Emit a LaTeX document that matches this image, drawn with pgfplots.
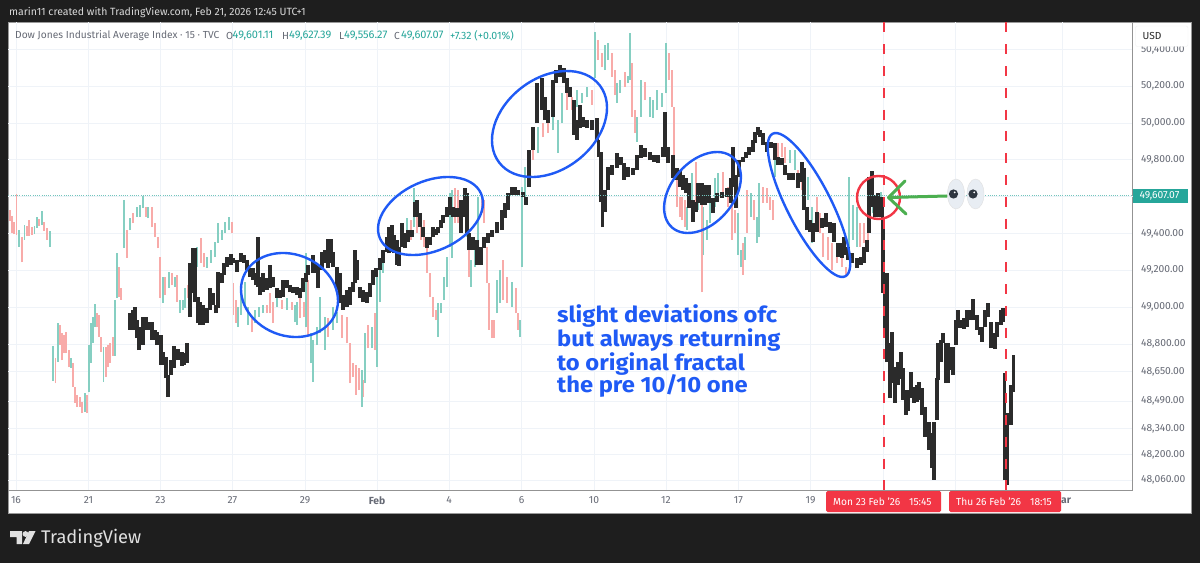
\documentclass[border=0pt]{standalone}
\usepackage{pgfplots}
\usepackage{pgfplotstable}
\usepackage{fontspec}
\pgfplotsset{compat=1.18}
\setmainfont{Fira Sans}
\newfontfamily\annotfont[FakeStretch=1.08]{Fira Sans}
\definecolor{bg}{HTML}{1E1E1E}
\definecolor{gridc}{HTML}{EFF3F8}
\definecolor{pgreen}{HTML}{86CFC2}
\definecolor{pred}{HTML}{F8ABA9}
\definecolor{blk}{HTML}{2B2B2B}
\definecolor{tagred}{HTML}{F23645}
\definecolor{teal}{HTML}{26A69A}
\definecolor{ell}{HTML}{1F5AF5}
\definecolor{lbl}{HTML}{666A75}
\definecolor{arrowg}{HTML}{4CAF50}
\definecolor{pupil}{HTML}{2E3640}
\definecolor{eyew}{HTML}{E8EDF3}

\pgfplotstableread{
x lo hi
10 49468 49528
12 49403 49495
14 49397 49463
16.5 49392 49615
22 49245 49381
27 49387 49441
29 49387 49473
32 49392 49435
39 49441 49479
44 49414 49463
47 49365 49430
55.5 48588 48724
60 48795 48903
62 48713 48860
64 48751 48849
66 48751 48865
69 48675 48767
73 48567 48697
75 48480 48567
77 48458 48523
80 48458 48512
82 48425 48485
87 48425 48523
97 48892 48968
99 48838 48958
101 48757 48838
106 48621 48784
108 48675 48795
110 48697 48805
113 48735 48838
119 49055 49218
121 49039 49104
127 49267 49419
133 49457 49511
146 49490 49544
152 49435 49544
155 49381 49457
158 49321 49381
160 49050 49272
165 49066 49164
172 49120 49186
177 49028 49175
188 49050 49120
201 49240 49376
204 49218 49294
232 49403 49463
233.5 48958 49131
236 48914 49039
252 48865 48947
267 48968 49012
270 48968 49077
273 48914 49028
282 48990 49039
292 48985 49028
300 48941 49050
304 48947 49028
308 48849 49148
328 48838 48941
342 48833 48958
347 48805 48947
350 48588 48805
353 48621 48697
356 48523 48686
359 48550 48670
363.5 48512 48605
368 48778 48903
375 48767 48968
411 49365 49473
417 49403 49528
421 49365 49490
424 49327 49473
427 49186 49327
430 49055 49186
433 48947 49055
436 48930 48985
455 49457 49647
458 49457 49636
462 49403 49582
469 49164 49327
482 49511 49598
484 49457 49582
487 49131 49327
489 48876 49131
492 48833 48930
494 48833 48930
503 49039 49256
507 49023 49164
516 48968 49104
518 48876 48968
528 49653 49837
533 49799 49908
543 49924 50000
548 49946 50000
567 50071 50163
572 50071 50141
592 50098 50179
598 50342 50451
602 50304 50380
612 50250 50380
615 50152 50288
625 50196 50277
632 50033 50326
635 49946 50071
645 50125 50223
669 50234 50380
672 50087 50288
674 49707 50087
677 49544 49729
680 49490 49598
682 49473 49598
685 49435 49582
696 49566 49788
702 49082 49582
723 49620 49734
728 49544 49653
732 49365 49566
735 49403 49528
743 49175 49349
747 49403 49636
754 49473 49582
763 49566 49653
767 49566 49647
770 49528 49598
773 49473 49582
778 49815 49892
782 49815 49892
785 49783 49870
798 49653 49745
802 49636 49707
817 49457 49598
820 49403 49511
823 49272 49403
828 49256 49381
832 49202 49349
837 49240 49327
842 49218 49310
846 49164 49218
860 49327 49457
864 49349 49457
868 49365 49490
877 49511 49620
}\reddata

\pgfplotstableread{
x lo hi
19 49327 49419
24.5 49365 49446
34.5 49397 49441
37 49430 49490
42 49446 49522
50 49327 49414
53 48599 48789
58 48702 48914
71 48670 48724
85 48431 48534
89 48539 48795
91 48697 48914
93 48805 48947
95 48892 49017
103.5 48594 48784
115 48735 49039
117 49050 49294
124 49321 49582
130 49419 49484
137 49490 49544
140 49490 49555
143 49539 49604
148 49484 49544
163 49023 49164
169 49104 49191
175 49110 49164
180 48968 49039
183 48985 49039
185 48996 49104
191 49039 49120
194 49120 49229
197 49218 49327
207 49213 49272
211 49240 49310
215 49272 49354
218 49349 49457
222 49365 49419
225 49403 49463
229 49419 49490
238 48892 49001
241 48958 49093
245 49001 49137
248 48903 49001
255 48914 48985
259 48947 49001
263 48968 49012
277 49001 49050
287 48985 49050
295 48920 49012
297 48903 49028
306 48892 49294
311 48697 48860
313 48594 48822
317 48795 48892
320 48860 49055
325 48767 48947
333 48876 49001
337 48914 48974
362 48458 48659
365 48588 48860
372 48778 48892
377 48675 49202
380 49028 49256
383 49186 49310
388 49310 49381
393 49310 49403
402 49327 49457
407 49381 49484
414 49435 49647
438 48838 49023
441 48968 49023
444 49039 49164
447 49110 49272
450 49327 49620
452 49267 49636
467 49381 49490
471 49110 49256
475 49218 49365
478 49365 49598
497 48968 49148
500 49023 49202
512 49001 49137
520 48838 48930
522 49218 49653
525 49582 49761
538 49837 49978
553 49962 50109
558 49837 50016
562 50000 50163
577 50087 50179
582 50109 50163
587 50141 50196
595 50244 50494
605 50288 50424
608 50342 50434
617 50109 50217
620 50163 50234
628 50217 50255
630 50234 50489
637 49897 50033
641 50033 50234
650 50033 50141
653 50027 50125
657 50071 50179
662 50087 50163
666 50163 50434
687 49419 49544
692 49582 49729
698 49528 49647
703.5 49283 49544
707 49365 49473
710 49457 49582
715 49544 49702
718 49598 49729
738 49283 49511
741 49218 49310
745 49256 49381
751 49490 49620
757 49349 49490
759 49381 49674
775 49707 49870
790 49783 49853
795 49745 49853
805 49528 49620
808 49582 49707
812 49349 49544
849 49327 49707
853 49365 49555
857 49327 49544
870 49403 49582
873 49511 49620
881 49511 49625
}\greendata

\pgfplotstableread{
x lo hi
130 48876 48968
133 48876 48985
135 48930 49001
137 48833 48930
139 48767 48892
143 48795 48947
146 48876 48947
148 48876 48920
152 48822 48920
155 48822 48876
157 48795 48865
161 48686 48849
163 48686 48757
166 48615 48730
168 48512 48632
171 48632 48713
174 48670 48789
178 48713 48773
182 48681 48757
184 48686 48751
187 48697 48805
190 48947 49240
193 49077 49321
195 49028 49321
198 48914 49055
200 48903 49028
203 48903 49012
207 48914 48996
210 48985 49104
213 49012 49077
216 48968 49012
218 48996 49191
222 49131 49186
224 49175 49240
227 49218 49272
231 49229 49289
233 49240 49267
237 49191 49256
241 49245 49294
244 49240 49283
247 49202 49256
250 49164 49213
253 49148 49213
256 49120 49186
258 49110 49381
260 49066 49164
263 49082 49186
267 49093 49158
270 49104 49229
273 49110 49164
277 49050 49104
280 49050 49093
283 49055 49148
287 49104 49148
290 49082 49120
293 49077 49110
297 49066 49110
300 49050 49104
303 49082 49158
306 49137 49186
308 49175 49229
313 49186 49283
316 49186 49240
318 49104 49229
322 49202 49300
325 49240 49310
328 49213 49370
331 49240 49370
333 49218 49300
337 49093 49218
340 49023 49186
343 48985 49066
347 49001 49093
350 49012 49110
353 49082 49137
355 49131 49310
357 49148 49256
360 49050 49110
363 49028 49093
367 49023 49082
370 49055 49131
373 49120 49202
376 49164 49213
380 49202 49267
383 49240 49310
387 49300 49381
389 49294 49435
392 49300 49446
394 49294 49392
397 49229 49365
399 49224 49327
402 49327 49457
405 49321 49403
408 49354 49419
412 49381 49419
415 49490 49571
417 49490 49582
420 49435 49511
423 49381 49435
427 49321 49381
430 49338 49381
433 49381 49435
436 49392 49424
438 49403 49435
441 49430 49473
443 49457 49501
447 49490 49544
450 49501 49598
453 49490 49544
457 49490 49539
461 49403 49582
465 49490 49647
467 49403 49620
469 49310 49403
473 49310 49381
477 49229 49365
481 49229 49327
484 49321 49381
488 49349 49403
492 49381 49419
497 49403 49463
502 49419 49528
505 49484 49566
508 49528 49620
512 49609 49653
515 49609 49653
518 49609 49636
523 49598 49625
526 49555 49598
529 49653 49853
533 49853 49978
537 50000 50217
542 50071 50244
545 50016 50141
548 50000 50071
553 50033 50234
556 50217 50288
560 50250 50315
564 50217 50299
567 50163 50244
570 50141 50196
574 49935 50125
577 49908 50016
580 49973 50098
583 49978 50033
587 49973 50016
592 49962 50016
597 49908 50027
598.5 49815 49908
601 49571 49843
602.5 49435 49582
605 49517 49636
608 49636 49761
612 49718 49772
617 49756 49837
621 49772 49815
624 49691 49783
628 49707 49761
633 49718 49756
637 49745 49826
641 49810 49881
645 49815 49864
650 49799 49843
654 49788 49826
658 49783 49826
663 49815 49870
665 49815 50060
668 49783 49870
673 49702 49826
677 49691 49756
680 49653 49745
683 49636 49718
686 49620 49702
689 49539 49674
693 49463 49582
696 49517 49571
698 49566 49674
702 49555 49674
705 49555 49663
709 49566 49663
713 49511 49593
717 49571 49620
722 49593 49625
727 49598 49647
731 49566 49702
733 49653 49870
736 49539 49718
739 49707 49799
743 49788 49815
746 49810 49843
749 49826 49870
753 49843 49908
755 49891 49951
758 49935 49978
760 49924 49962
763 49881 49946
767 49843 49897
771 49864 49897
775 49799 49891
778 49772 49815
782 49772 49810
785 49718 49772
789 49691 49729
793 49691 49729
798 49647 49729
802 49680 49788
804 49528 49756
807 49419 49544
810 49408 49473
813 49354 49457
817 49408 49517
822 49430 49484
826 49435 49511
830 49403 49463
834 49354 49457
838 49272 49349
842 49267 49349
844 49283 49381
848 49256 49327
852 49240 49294
857 49213 49267
861 49229 49272
864 49240 49327
867 49300 49365
869 49403 49707
872 49544 49739
875 49490 49609
878 49490 49620
882 49490 49598
883 49077 49490
885 48838 49186
887 48702 49186
890 48507 48805
892 48588 48865
895 48480 48675
898 48577 48702
901 48610 48757
903 48496 48670
906 48415 48550
908 48436 48550
911 48507 48648
914 48480 48567
917 48485 48577
919 48496 48594
922 48415 48561
925 48295 48458
929 48224 48376
932 48127 48317
934 48062 48376
937 48387 48615
938 48605 48805
941 48702 48822
943 48805 48860
946 48588 48805
948 48588 48805
951 48659 48784
953 48632 48784
956 48795 48930
958 48887 48985
961 48887 48930
964 48882 48941
967 48892 48985
971 48930 48985
973 48930 49044
977 48876 48958
980 48849 48892
982 48811 48892
985 48892 48985
988 48947 49023
991 48778 48920
995 48773 48860
997 48838 48920
1001 48903 48985
1003 48920 48996
1004.5 48062 48643
1007 48035 48425
1011 48360 48577
1013.5 48539 48740
}\blackdata

\begin{document}
\begin{tikzpicture}
\fill[bg] (0,0) rectangle (1200pt,563pt);
\begin{scope}[shift={(0,563pt)},x=1pt,y=-1pt]
\fill[white] (8.5,22.5) rectangle (1191.5,513);
\draw[gray!80,line width=0.7pt] (8.5,22.5) rectangle (1191.5,513);
\end{scope}
\begin{axis}[
  anchor=south west, at={(8.5pt,73pt)},
  scale only axis, width=1124pt, height=467.5pt,
  xmin=8.5, xmax=1132.5, ymin=48007, ymax=50546,
  axis x line*=bottom, axis y line*=right,
  axis line style={color=gray!85,line width=1pt,-},
  major tick length=0pt,
  xmajorgrids, ymajorgrids,
  major grid style={gridc,line width=0.9pt},
  xtick={16,88.5,160.5,232.5,305,377,449,521.5,594,666,738.5,810.5,883,955,1062},
  xticklabels={16,21,23,27,29,\textbf{Feb},4,6,10,12,17,19,{},{},\textbf{Mar}},
  ytick={48060,48200,48340,48490,48650,48800,49000,49200,49400,49800,50000,50200,50400},
  extra y ticks={49600}, extra y tick labels={},
  scaled y ticks=false,
  /pgf/number format/fixed,
  /pgf/number format/fixed zerofill,
  /pgf/number format/precision=2,
  /pgf/number format/1000 sep={,},
  /pgf/number format/assume math mode=true,
  ticklabel style={font=\fontsize{10.3}{12}\selectfont,text=lbl},
  yticklabel style={xshift=5pt},
  xticklabel style={yshift=-3pt},
]
\addplot[draw=none,mark=none,forget plot,error bars/.cd,y dir=plus,y explicit,error mark=none,
  error bar style={line width=1.8pt,color=pred}]
  table[x=x,y=lo,y error plus expr=\thisrow{hi}-\thisrow{lo}] {\reddata};
\addplot[draw=none,mark=none,forget plot,error bars/.cd,y dir=plus,y explicit,error mark=none,
  error bar style={line width=1.8pt,color=pgreen}]
  table[x=x,y=lo,y error plus expr=\thisrow{hi}-\thisrow{lo}] {\greendata};
\addplot[draw=none,mark=none,forget plot,error bars/.cd,y dir=plus,y explicit,error mark=none,
  error bar style={line width=3.3pt,color=blk}]
  table[x=x,y=lo,y error plus expr=\thisrow{hi}-\thisrow{lo}] {\blackdata};
\addplot[forget plot,color=teal!65,line width=1pt,dash pattern=on 1pt off 1.2pt] coordinates {(8.5,49607.07) (1132.5,49607.07)};
\addplot[forget plot,color=tagred,line width=2pt,dash pattern=on 10pt off 11.8pt] coordinates {(884,50546) (884,48007)};
\addplot[forget plot,color=tagred,line width=2pt,dash pattern=on 10pt off 11.8pt] coordinates {(1005.5,50546) (1005.5,48007)};
\end{axis}
\begin{scope}[shift={(0,563pt)},x=1pt,y=-1pt]
% ellipses
\begin{scope}[ell,line width=2.4pt]
\draw[rotate around={-21.5:(289.5,295)}] (289.5,295) ellipse [x radius=49.6pt,y radius=40.7pt];
\draw[rotate around={24:(430.5,216)}] (430.5,216) ellipse [x radius=55.3pt,y radius=34.9pt];
\draw[rotate around={37.5:(549.5,124)}] (549.5,124) ellipse [x radius=63.4pt,y radius=45.8pt];
\draw[rotate around={49:(702.5,192.5)}] (702.5,192.5) ellipse [x radius=46.4pt,y radius=31pt];
\draw[rotate around={-63:(809,205)}] (809,205) ellipse [x radius=80pt,y radius=22pt];
\end{scope}
\draw[tagred,line width=2.4pt] (878.5,197.5) circle (21.5pt);
\draw[arrowg,line width=3pt,line cap=round,line join=round] (947,196) -- (889,197.5);
\draw[arrowg,line width=3pt,line cap=round,line join=round] (905,181) -- (888.5,197.5) -- (906,214);
% eyes
\foreach \ex in {956,975.5}{
  \fill[draw=black!12,fill=eyew] (\ex,194) ellipse [x radius=8.5pt,y radius=15pt];
  \fill[pupil] (\ex-2.5,194) circle (4.6pt);
  \fill[white] (\ex-1.3,192.4) circle (1pt);
}
% annotation text
\begin{scope}[every node/.style={anchor=west,inner sep=0,text=ell,font=\fontsize{22}{26}\annotfont\bfseries}]
\node at (557,316) {slight deviations ofc};
\node at (557,340) {but always returning};
\node at (557,364) {to original fractal};
\node at (557,386) {the pre 10/10 one};
\end{scope}
% header
\node[anchor=west,inner sep=0,text=black!15,font=\fontsize{10.5}{13}\selectfont] at (9,13) {marin11 created with TradingView.com, Feb 21, 2026 12:45 UTC+1};
\begin{scope}[every node/.style={anchor=west,inner sep=0,font=\fontsize{10.2}{12}\selectfont}]
\node[text=lbl] at (15,35.5) {Dow Jones Industrial Average Index · 15 · TVC};
\node[text=lbl] at (226,35.5) {O};
\node[text=teal,font=\fontsize{11}{12}\selectfont] at (232.5,35.5) {49,601.11};
\node[text=lbl] at (282,35.5) {H};
\node[text=teal,font=\fontsize{11}{12}\selectfont] at (289,35.5) {49,627.39};
\node[text=lbl] at (339,35.5) {L};
\node[text=teal,font=\fontsize{11}{12}\selectfont] at (344,35.5) {49,556.27};
\node[text=lbl] at (394,35.5) {C};
\node[text=teal,font=\fontsize{11}{12}\selectfont] at (401,35.5) {49,607.07};
\node[text=teal,font=\fontsize{10.6}{12}\selectfont] at (450,35.5) {+7.32 (+0.01\%)};
\end{scope}
% USD box
\draw[draw=black!6,fill=white,rounded corners=2pt] (1135.5,26) rectangle (1188,46.5);
\node[anchor=west,inner sep=0,text=black!85,font=\fontsize{10.2}{12}\selectfont] at (1142.5,36) {USD};
% price tag
\fill[teal] (1132.5,189) rectangle (1188,203);
\node[anchor=west,inner sep=0,text=white,font=\fontsize{10.3}{12}\selectfont] at (1139.5,196) {49,607.07};
% time tags
\fill[tagred,rounded corners=1.5pt] (826,491) rectangle (941,512);
\fill[tagred,rounded corners=1.5pt] (949,491) rectangle (1061,512);
\begin{scope}[every node/.style={anchor=west,inner sep=0,text=white,font=\fontsize{10.2}{12}\selectfont}]
\node at (833,502) {Mon 23 Feb '26};
\node at (909,502) {15:45};
\node at (956,502) {Thu 26 Feb '26};
\node at (1030,502) {18:15};
\end{scope}
% logo
\fill[black!12] (10,531) -- (22,531) -- (22,544) -- (16.5,544) -- (16.5,537) -- (10,537) -- cycle;
\fill[black!12] (25.5,534) circle (2.9pt);
\fill[black!12] (29,531) -- (35.5,531) -- (29,544) -- (23,544) -- cycle;
\node[anchor=west,inner sep=0,text=black!12,font=\fontsize{18.3}{22}\selectfont] at (41,538) {TradingView};
\end{scope}
\end{tikzpicture}
\end{document}
